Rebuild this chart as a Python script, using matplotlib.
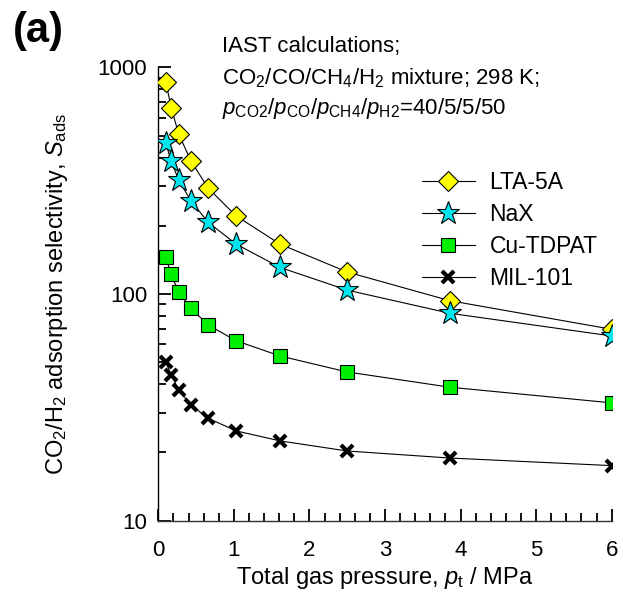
import matplotlib
matplotlib.use("Agg")
import matplotlib.pyplot as plt
from matplotlib.ticker import FixedLocator, NullFormatter, MultipleLocator

plt.rcParams['font.family'] = ['Liberation Sans', 'DejaVu Sans']
plt.rcParams['mathtext.fontset'] = 'custom'
plt.rcParams['mathtext.rm'] = 'Liberation Sans'
plt.rcParams['mathtext.it'] = 'Liberation Sans:italic'

# Total gas pressure, MPa
pressure = [0.1, 0.17, 0.27, 0.43, 0.66, 1.03, 1.61, 2.5, 3.86, 6.0]

# Adsorption selectivities
lta_5a = [864, 663, 508, 387, 293, 221, 166, 125, 93.4, 69.9]
nax = [462, 386, 318, 258, 207, 166, 131, 104, 82.2, 65.3]
cu_tdpat = [146, 122, 102, 86.5, 73, 62.2, 53.3, 45.3, 38.8, 33.1]
mil_101 = [50, 44, 37.8, 32.4, 28.3, 24.9, 22.5, 20.3, 18.9, 17.5]

labels = ['LTA-5A', 'NaX', 'Cu-TDPAT', 'MIL-101']

fig = plt.figure(figsize=(6.23, 6.15), dpi=100)
ax = fig.add_axes([0.2541, 0.1533, 0.9819 - 0.2541, 0.8906 - 0.1533])

lw = 0.8
ax.plot(pressure, lta_5a, '-', color='black', lw=lw, marker='D', ms=10,
        mfc='#ffff00', mec='black', mew=0.8, label=labels[0], zorder=3)
ax.plot(pressure, nax, '-', color='black', lw=lw, marker='*', ms=17,
        mfc='#00e5ee', mec='black', mew=0.8, label=labels[1], zorder=4)
ax.plot(pressure, cu_tdpat, '-', color='black', lw=lw, marker='s', ms=10,
        mfc='#00ee00', mec='black', mew=0.8, label=labels[2], zorder=3)
ax.plot(pressure, mil_101, '-', color='black', lw=lw, marker='x', ms=9,
        mec='black', mew=3, label=labels[3], zorder=3)

ax.set_yscale('log')
ax.set_ylim(10, 1000)
ax.set_xlim(0, 6)

ax.spines['top'].set_visible(False)
ax.spines['right'].set_visible(False)
ax.spines['left'].set_linewidth(1)
ax.spines['bottom'].set_linewidth(1)
ax.spines['bottom'].set_color('#333333')

ax.xaxis.set_major_locator(MultipleLocator(1))
ax.xaxis.set_minor_locator(MultipleLocator(0.2))
ax.yaxis.set_major_locator(FixedLocator([10, 100, 1000]))
minor_y = [m * d for d in (10, 100) for m in range(2, 10)]
ax.yaxis.set_minor_locator(FixedLocator(minor_y))
ax.yaxis.set_minor_formatter(NullFormatter())
ax.set_yticklabels(['10', '100', '1000'])

ax.tick_params(axis='both', which='both', bottom=True, left=True, top=False, right=False)
ax.tick_params(axis='both', which='major', direction='in', length=9, width=1.3,
               labelsize=16, color='black', labelcolor='black')
ax.tick_params(axis='both', which='minor', direction='in', length=6, width=1.3,
               color='black')
ax.tick_params(axis='x', which='major', pad=14)
ax.tick_params(axis='y', which='major', pad=8)
for ln in ax.xaxis.get_ticklines(minor=False) + ax.xaxis.get_ticklines(minor=True) \
        + ax.yaxis.get_ticklines(minor=False) + ax.yaxis.get_ticklines(minor=True):
    ln.set_zorder(5)
    ln.set_clip_on(False)

ax.set_xlabel('Total gas pressure, $\\mathit{p}_\\mathrm{t}$ / MPa', fontsize=17, labelpad=3)
ax.set_ylabel('CO$_2$/H$_2$ adsorption selectivity, $\\mathit{S}_\\mathrm{ads}$', fontsize=17,
              labelpad=20)

fig.text(0.021, 0.950, '(a)', fontsize=30, fontweight='bold', va='center', ha='left')
fig.text(0.357, 0.924, 'IAST calculations;', fontsize=16, ha='left', va='center')
fig.text(0.357, 0.873, 'CO$_2$/CO/CH$_4$/H$_2$ mixture; 298 K;', fontsize=16, ha='left', va='center')
fig.text(0.357, 0.823,
         '$\\mathit{p}_\\mathrm{CO2}$/$\\mathit{p}_\\mathrm{CO}$/$\\mathit{p}_\\mathrm{CH4}$/'
         '$\\mathit{p}_\\mathrm{H2}$=40/5/5/50', fontsize=16, ha='left', va='center')

leg = ax.legend(loc='upper left', bbox_to_anchor=(0.561, 0.791), frameon=False,
                fontsize=16.5, handlelength=2.3, handletextpad=0.65, labelspacing=0.39,
                borderaxespad=0)

fig.savefig('out.png', dpi=100)
